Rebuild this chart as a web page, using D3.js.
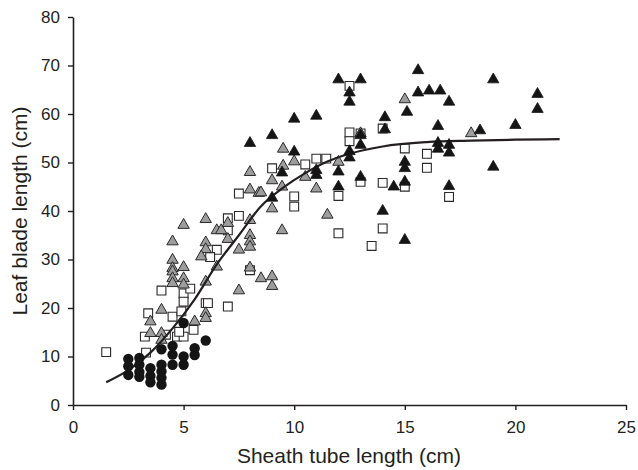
<!DOCTYPE html>
<html>
<head>
<meta charset="utf-8">
<script src="https://cdn.jsdelivr.net/npm/d3@7"></script>
<style>
  body { margin: 0; background: #fff; }
  svg text { font-family: "Liberation Sans", Arial, sans-serif; fill: #231f20; }
</style>
</head>
<body>
<div id="chart"></div>
<script>
// x = sheath tube length (cm), y = leaf blade length (cm)
const blackCircles = [
  [2.5, 9.5], [2.5, 8], [2.5, 6.2], [3.0, 9.7], [3.0, 8.3], [3.0, 6.8], [3.0, 5.8],
  [3.5, 7.6], [3.5, 6], [3.5, 4.7], [4.0, 11.5], [4.0, 8.3], [4.0, 6.9], [4.0, 5.6], [4.0, 4.2],
  [4.5, 12.2], [4.5, 10.4], [4.5, 8.3], [5.0, 10], [5.0, 8.3], [5.0, 16.9],
  [5.5, 11.7], [5.5, 10.3], [6.0, 13.3]
];

const openSquares = [
  [1.5, 10.9], [3.4, 18.9], [3.25, 14.1], [3.3, 10.8], [4.0, 23.6], [4.5, 18.2], [4.7, 14.1],
  [5.0, 14.1], [5.0, 23], [5.0, 21.3], [5.3, 24], [4.9, 19.3], [5.45, 15.5], [4.2, 14.5],
  [6.0, 21], [6.1, 21], [7.0, 20.3], [4.8, 15.1],
  [7.5, 43.6], [7.0, 38.5], [7.5, 39], [7.0, 36], [6.5, 32], [6.2, 30.5], [8.0, 27.8],
  [9.0, 48.8], [10.0, 43], [10.5, 49.6], [11, 50.8], [11.45, 50.8],
  [12.5, 65.8], [12.5, 56.2], [12.5, 54.4], [13, 56], [14, 57], [15, 52.9], [16, 51.8], [16, 48.9],
  [14, 45.8], [13, 46], [15, 45], [12, 43.1], [10, 40.9], [12, 35.4], [14, 36.4], [13.5, 32.8],
  [17, 42.9]
];

const greyTriangles = [
  [8, 48], [8, 44.4], [8.4, 43.7], [6, 38.3], [5, 37.1], [6.5, 36], [6.7, 36], [7, 34.2],
  [4.5, 33.7], [6, 33.5], [6, 32.1], [5.8, 30.6], [7.5, 32], [8, 38.1], [8, 35], [8, 33.7],
  [8, 32.6], [4.5, 29.9], [4.5, 28.2], [5, 28.4], [6.5, 28.5], [8, 28.3],
  [4.5, 27.5], [4.5, 26.1], [4.5, 25.1], [5, 26.1], [5, 24.8], [6, 25.4], [7.5, 23.6],
  [4, 19.6], [3.5, 17.2], [3.5, 14.8], [4, 14.8], [6, 18.9], [6, 17.9], [5.5, 17.2], [4, 13.4],
  [7, 37.5], [9.5, 52.8], [10, 50.2], [9.5, 49.3], [9, 46.3], [9.45, 45], [10.5, 47],
  [8.5, 43.8], [11, 44.6], [12, 50.1], [15, 63], [13, 56], [18, 56], [9, 40.5], [9.45, 36],
  [11.5, 39.2], [8.5, 26.1], [9, 26.5], [9, 24.5]
];

const blackTriangles = [
  [8, 54], [10, 59], [11, 59.6], [9, 55.6], [10, 52.2], [9.45, 47.9], [11, 48.4], [11, 47.4],
  [9, 42.7], [12, 67.1], [13, 67.1], [12.5, 64.4], [12.5, 62.5], [15.6, 69], [15.6, 64.4],
  [16.1, 64.8], [16.6, 64.8], [15.1, 60.4], [14.1, 59.3], [14.1, 56.8], [12.5, 52.3],
  [12.5, 51], [13, 53.6], [13, 55.6], [16.5, 57.5], [16.5, 54], [16.5, 52.8], [15, 50.1],
  [15, 48.8], [12, 48.1], [13, 47], [14.5, 45], [15, 46], [12, 45], [14, 40], [15, 34],
  [19, 67.1], [17, 62.5], [21, 64.1], [21, 61], [20, 57.7], [18.4, 56.6], [17, 53.6],
  [17, 52], [19, 49.1], [17, 45.1]
];

// fitted line
const fitX = [1.5, 2.5, 3.5, 4.5, 5.5, 6.5, 7.5, 8.5, 9.5, 10.5, 11.5, 12.5, 14, 16, 18, 20, 22];
const fitY = [4.7, 7.2, 10.8, 15.8, 21.8, 29, 35, 41, 44.8, 47.8, 50.2, 51.8, 53.3, 54.2, 54.5, 54.7, 54.8];

const xTicks = [0, 5, 10, 15, 20, 25];
const yTicks = [0, 10, 20, 30, 40, 50, 60, 70, 80];

const width = 638, height = 470;

const svg = d3.select("#chart")
  .append("svg")
  .attr("width", width)
  .attr("height", height);

const x = d3.scaleLinear().domain([0, 25]).range([73, 626]);
const y = d3.scaleLinear().domain([0, 80]).range([405, 17]);

// axes
const xAxis = svg.append("g")
  .attr("transform", `translate(0,${y(0)})`)
  .call(d3.axisBottom(x).tickValues(xTicks).tickSize(5).tickSizeOuter(0).tickPadding(11));

const yAxis = svg.append("g")
  .attr("transform", `translate(${x(0)},0)`)
  .call(d3.axisLeft(y).tickValues(yTicks).tickSize(5).tickSizeOuter(0).tickPadding(8));

[xAxis, yAxis].forEach(g => {
  g.select(".domain").attr("stroke", "#231f20").attr("stroke-width", 1.6);
  g.selectAll(".tick line").attr("stroke", "#231f20").attr("stroke-width", 1.4);
  g.selectAll(".tick text").style("font-size", "17px").attr("fill", "#231f20");
});

svg.append("text")
  .attr("x", 349)
  .attr("y", 463)
  .attr("text-anchor", "middle")
  .style("font-size", "21px")
  .text("Sheath tube length (cm)");

svg.append("text")
  .attr("transform", "translate(27,211) rotate(-90)")
  .attr("text-anchor", "middle")
  .style("font-size", "21px")
  .text("Leaf blade length (cm)");

const tri = d3.symbol().type(d3.symbolTriangle).size(56);
const sq = d3.symbol().type(d3.symbolSquare).size(78);

// open squares
svg.append("g")
  .selectAll("path")
  .data(openSquares)
  .join("path")
  .attr("d", sq)
  .attr("transform", d => `translate(${x(d[0])},${y(d[1])})`)
  .attr("fill", "#fff")
  .attr("stroke", "#2a2a2a")
  .attr("stroke-width", 1.1);

// grey triangles
svg.append("g")
  .selectAll("path")
  .data(greyTriangles)
  .join("path")
  .attr("d", tri)
  .attr("transform", d => `translate(${x(d[0])},${y(d[1])})`)
  .attr("fill", "#9d9d9d")
  .attr("stroke", "#2a2a2a")
  .attr("stroke-width", 1);

// fitted curve
const line = d3.line()
  .x((d, i) => x(fitX[i]))
  .y(d => y(d))
  .curve(d3.curveMonotoneX);

svg.append("path")
  .datum(fitY)
  .attr("d", line)
  .attr("fill", "none")
  .attr("stroke", "#231f20")
  .attr("stroke-width", 2.2);

// black triangles
svg.append("g")
  .selectAll("path")
  .data(blackTriangles)
  .join("path")
  .attr("d", tri)
  .attr("transform", d => `translate(${x(d[0])},${y(d[1])})`)
  .attr("fill", "#151515")
  .attr("stroke", "#151515")
  .attr("stroke-width", 0.8);

// black circles
svg.append("g")
  .selectAll("circle")
  .data(blackCircles)
  .join("circle")
  .attr("cx", d => x(d[0]))
  .attr("cy", d => y(d[1]))
  .attr("r", 5.2)
  .attr("fill", "#151515");
</script>
</body>
</html>
